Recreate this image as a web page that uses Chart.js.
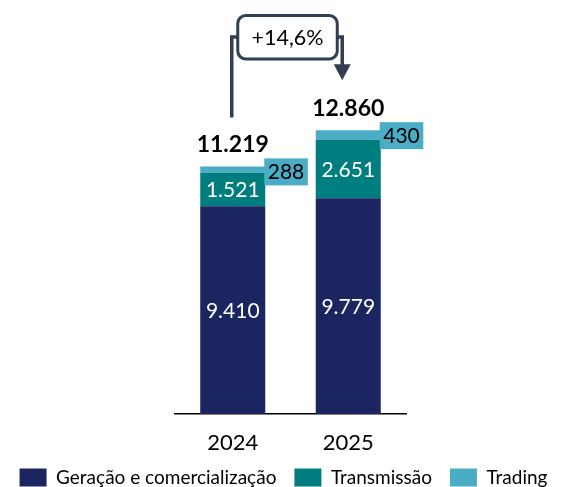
<!DOCTYPE html>
<html>
<head>
<meta charset="utf-8">
<script src="https://cdn.jsdelivr.net/npm/chart.js@4.4.1/dist/chart.umd.min.js"></script>
<style>
  html, body { margin: 0; padding: 0; background: #fff; }
</style>
</head>
<body>
<canvas id="grafico" width="567" height="487"></canvas>
<script>
const anos = ['2024', '2025'];
const geracao = [9410, 9779];
const transmissao = [1521, 2651];
const trading = [288, 430];
const variacao = '+14,6%';

const FONTE = 'Lato, "Open Sans", sans-serif';
const COR_GERACAO = '#1B2660';
const COR_TRANSMISSAO = '#007D7F';
const COR_TRADING = '#4BACC6';
const COR_SETA = '#333F50';

function fmt(n) {
    return String(n).replace(/\B(?=(\d{3})+(?!\d))/g, '.');
}

const totais = anos.map((a, i) => geracao[i] + transmissao[i] + trading[i]);

const rotulos = {
    id: 'rotulos',
    afterDatasetsDraw(chart) {
        const ctx = chart.ctx;
        const m0 = chart.getDatasetMeta(0);
        const m1 = chart.getDatasetMeta(1);
        const m2 = chart.getDatasetMeta(2);
        ctx.save();
        ctx.textAlign = 'center';
        ctx.textBaseline = 'middle';

        // valores dentro das barras
        ctx.font = '21px ' + FONTE;
        ctx.fillStyle = '#fff';
        [m0, m1].forEach(m => {
            m.data.forEach((b, i) => {
                let v = chart.data.datasets[m.index].data[i];
                ctx.fillText(fmt(v), b.x, (b.y + b.base) / 2 + 1);
            });
        });

        // caixinhas do trading
        m2.data.forEach((b, i) => {
            let txt = fmt(trading[i]);
            let w = ctx.measureText(txt).width + 7;
            let left = b.x + b.width / 2 - 1;
            let top = b.y - 8;
            ctx.fillStyle = COR_TRADING;
            ctx.fillRect(left, top, w, 27);
            ctx.fillStyle = '#000';
            ctx.fillText(txt, left + w / 2, top + 14);
        });

        // totais
        ctx.font = 'bold 23px ' + FONTE;
        ctx.fillStyle = '#000';
        m2.data.forEach((b, i) => {
            ctx.fillText(fmt(totais[i]), b.x, b.y - 22);
        });

        // seta de variacao
        let a = m2.data[0], b = m2.data[1];
        let x1 = a.x - 1, x2 = b.x - 6, yLinha = 37;
        let boxL = x1 + 6, boxR = x2 - 5;
        ctx.strokeStyle = COR_SETA;
        ctx.lineWidth = 3.5;
        ctx.beginPath();
        ctx.moveTo(x1, a.y - 49);
        ctx.lineTo(x1, yLinha);
        ctx.lineTo(boxL, yLinha);
        ctx.moveTo(boxR, yLinha);
        ctx.lineTo(x2, yLinha);
        ctx.lineTo(x2, b.y - 64);
        ctx.stroke();
        ctx.fillStyle = COR_SETA;
        ctx.beginPath();
        ctx.moveTo(x2 - 8.5, b.y - 66);
        ctx.lineTo(x2 + 8.5, b.y - 66);
        ctx.lineTo(x2, b.y - 50);
        ctx.closePath();
        ctx.fill();

        ctx.lineWidth = 3;
        ctx.fillStyle = '#fff';
        ctx.beginPath();
        ctx.roundRect(boxL, 15.5, boxR - boxL, 43.5, 8);
        ctx.fill();
        ctx.stroke();
        ctx.fillStyle = '#000';
        ctx.font = '21.5px ' + FONTE;
        ctx.fillText(variacao, (boxL + boxR) / 2, 38);
        ctx.restore();
    }
};

new Chart(document.getElementById('grafico'), {
    type: 'bar',
    data: {
        labels: anos,
        datasets: [
            { label: 'Geração e comercialização', data: geracao, backgroundColor: COR_GERACAO },
            { label: 'Transmissão', data: transmissao, backgroundColor: COR_TRANSMISSAO },
            { label: 'Trading', data: trading, backgroundColor: COR_TRADING }
        ]
    },
    options: {
        responsive: false,
        animation: false,
        layout: { padding: { top: 105, bottom: -10, left: 0, right: 0 } },
        datasets: {
            bar: { barPercentage: 0.563, categoryPercentage: 1, borderWidth: 0 }
        },
        scales: {
            x: {
                stacked: true,
                grid: { display: false, drawTicks: false },
                border: { display: true, color: '#000', width: 1.5 },
                ticks: { color: '#000', padding: 16, font: { family: FONTE, size: 22 } },
                afterFit(s) { s.height = 36; }
            },
            y: {
                stacked: true,
                min: 0,
                max: 14000,
                grid: { display: false },
                border: { display: false },
                ticks: { display: false },
                afterFit(s) { s.width = 175; }
            },
            y2: {
                position: 'right',
                grid: { display: false },
                border: { display: false },
                ticks: { display: false },
                afterFit(s) { s.width = 161; }
            }
        },
        plugins: {
            legend: {
                position: 'bottom',
                labels: {
                    color: '#000',
                    boxWidth: 27,
                    boxHeight: 18,
                    padding: 18,
                    font: { family: FONTE, size: 19 }
                }
            },
            tooltip: { enabled: false }
        }
    },
    plugins: [rotulos]
});
</script>
</body>
</html>
